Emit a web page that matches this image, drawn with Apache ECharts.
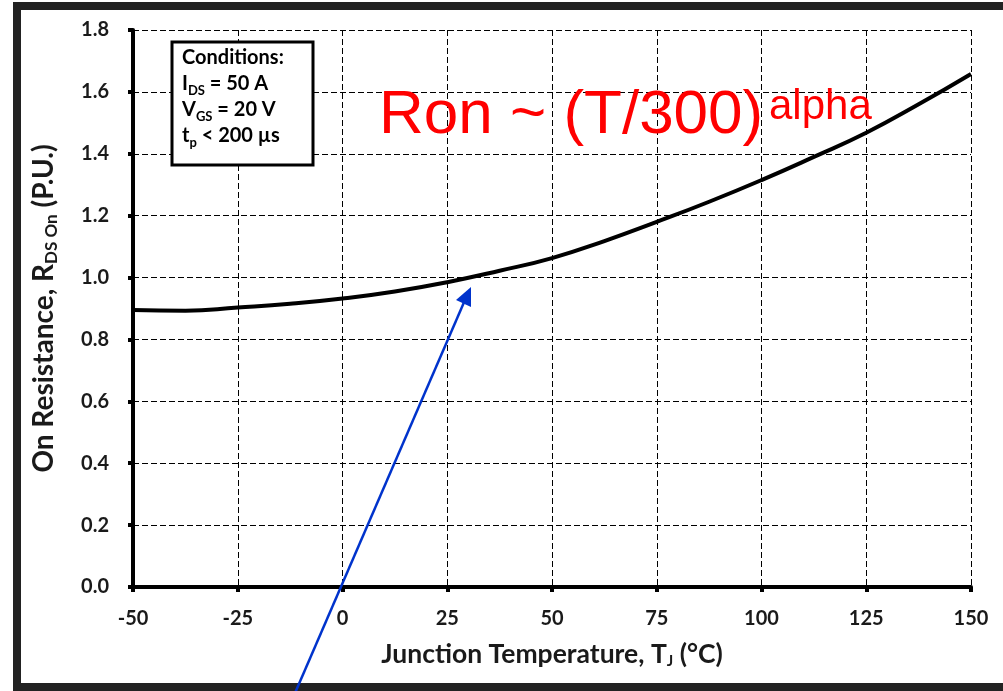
<!DOCTYPE html>
<html><head><meta charset="utf-8">
<script src="https://cdn.jsdelivr.net/npm/echarts@6/dist/echarts.min.js"></script>
<style>html,body{margin:0;padding:0;background:#fff}#c{width:1003px;height:691px}</style>
</head><body><div id="c"></div>
<script>
var temps = [-50, -37.5, -25, -12.5, 0, 12.5, 25, 37.5, 50, 62.5, 75, 87.5, 100, 112.5, 125, 137.5, 150];
var ron   = [0.895, 0.893, 0.903, 0.915, 0.932, 0.955, 0.985, 1.022, 1.063, 1.118, 1.18, 1.245, 1.315, 1.39, 1.468, 1.56, 1.658];
var xTicks = [-50, -25, 0, 25, 50, 75, 100, 125, 150];
var yTicks = [0.0, 0.2, 0.4, 0.6, 0.8, 1.0, 1.2, 1.4, 1.6, 1.8];

var chart = echarts.init(document.getElementById('c'), null, {renderer: 'canvas'});
var F = 'Lato, "Open Sans", sans-serif';
var C = '#1a1a1a';
var option = {
  backgroundColor: '#fff',
  animation: false,
  grid: {left: 133, right: 32, top: 30, bottom: 104},
  xAxis: {
    type: 'value', min: xTicks[0], max: xTicks[xTicks.length - 1], interval: 25,
    axisLine: {show: true, onZero: false, lineStyle: {color: '#000', width: 4}},
    axisTick: {show: true, length: 5, lineStyle: {color: '#000', width: 4}},
    axisLabel: {color: C, fontFamily: F, fontWeight: 'bold', fontSize: 20, margin: 22,
      formatter: function (v) { return String(v); }},
    splitLine: {show: true, lineStyle: {color: '#000', width: 1, type: [6, 3]}},
    name: '{b|Junction Temperature, T}{s|J}{b| (°C)}',
    nameLocation: 'middle', nameGap: 52,
    nameTextStyle: {rich: {
      b: {fontFamily: F, fontWeight: 'bold', fontSize: 26.5, color: C, lineHeight: 30},
      s: {fontFamily: F, fontWeight: 'bold', fontSize: 15, color: C, lineHeight: 17, verticalAlign: 'bottom'}
    }}
  },
  yAxis: {
    type: 'value', min: yTicks[0], max: yTicks[yTicks.length - 1], interval: 0.2,
    axisLine: {show: true, onZero: false, lineStyle: {color: '#000', width: 4}},
    axisTick: {show: true, length: 5, lineStyle: {color: '#000', width: 4}},
    axisLabel: {color: C, fontFamily: F, fontWeight: 'bold', fontSize: 20, margin: 24,
      formatter: function (v) { return v.toFixed(1); }},
    splitLine: {show: true, lineStyle: {color: '#000', width: 1, type: [6, 3]}},
    name: '{b|On Resistance, R}{s|DS On}{b| (P.U.)}',
    nameLocation: 'middle', nameGap: 73, nameRotate: 90,
    nameTextStyle: {rich: {
      b: {fontFamily: F, fontWeight: 'bold', fontSize: 28, color: C, lineHeight: 32},
      s: {fontFamily: F, fontWeight: 'bold', fontSize: 17, color: C, lineHeight: 19, verticalAlign: 'bottom'}
    }}
  },
  series: [{
    type: 'line', smooth: true, symbol: 'none',
    data: temps.map(function (t, i) { return [t, ron[i]]; }),
    lineStyle: {color: '#000', width: 4}
  }],
  graphic: [
    {type: 'rect', z: 100, shape: {x: 17, y: 6, width: 1000, height: 681},
     style: {fill: 'none', stroke: '#222', lineWidth: 8}},
    {type: 'rect', z: 100, shape: {x: 172, y: 42, width: 141, height: 123},
     style: {fill: '#fff', stroke: '#000', lineWidth: 3}},
    {type: 'text', z: 101, left: 182, top: 48,
     style: {
       text: '{b|Conditions:}\n{b|I}{s|DS}{b| = 50 A}\n{b|V}{s|GS}{b| = 20 V}\n{b|t}{s|p}{b| < 200 µs}',
       rich: {
         b: {fontFamily: F, fontWeight: 'bold', fontSize: 20, color: C, lineHeight: 26},
         s: {fontFamily: F, fontWeight: 'bold', fontSize: 13, color: C, lineHeight: 14, verticalAlign: 'bottom'}
       }
     }},
    {type: 'text', z: 101, left: 379, top: 85,
     style: {text: 'Ron ~ (T/300)', fontFamily: 'Liberation Sans, Arial, sans-serif', fontSize: 62, fill: '#ff0000'}},
    {type: 'text', z: 101, left: 769, top: 86,
     style: {text: 'alpha', fontFamily: 'Liberation Sans, Arial, sans-serif', fontSize: 42, fill: '#ff0000'}},
    {type: 'line', z: 101, shape: {x1: 292, y1: 700, x2: 465, y2: 300},
     style: {stroke: '#0033cc', lineWidth: 2.5}},
    {type: 'polygon', z: 101, shape: {points: [[471, 287], [456, 300], [471, 307]]},
     style: {fill: '#0033cc'}}
  ]
};
chart.setOption(option);
</script>
</body></html>
